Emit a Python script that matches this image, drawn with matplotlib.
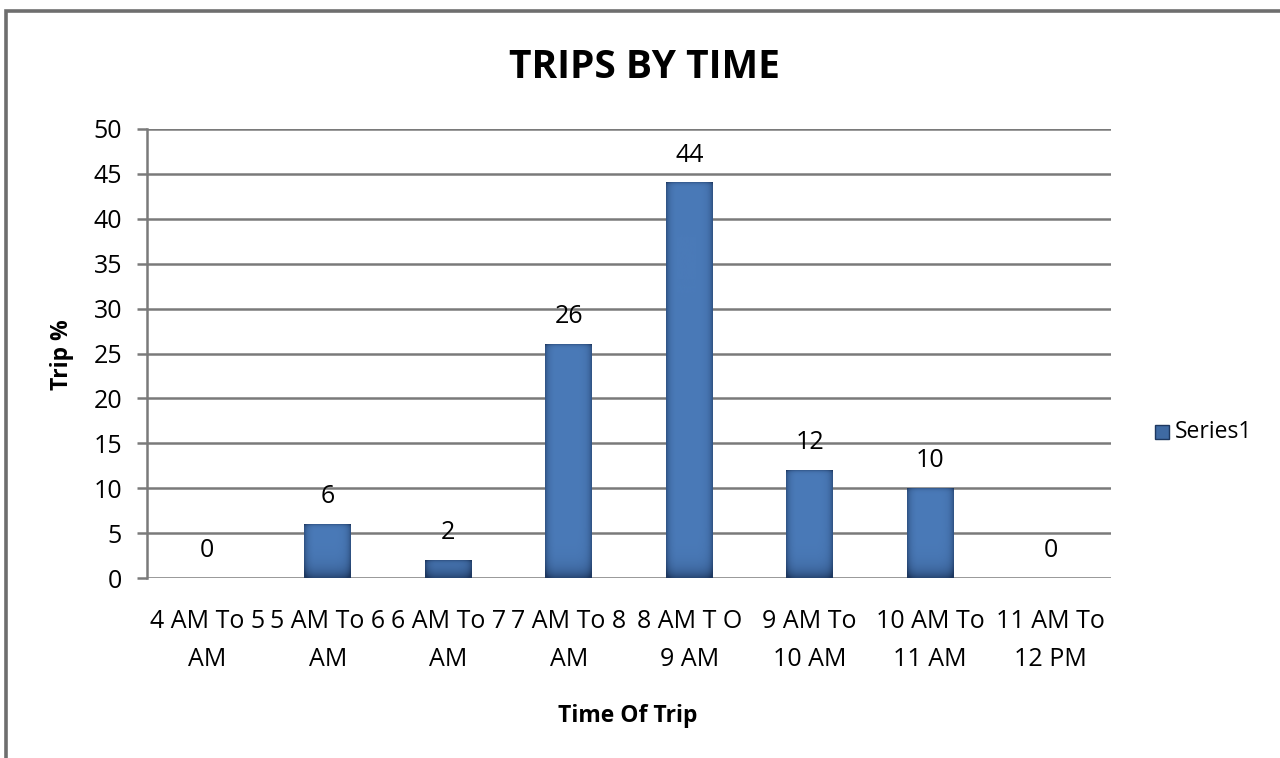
import numpy as np
import matplotlib
matplotlib.use("Agg")
import matplotlib.pyplot as plt
from matplotlib.patches import Rectangle

# Data
categories = [
    "4 AM To 5\nAM", "5 AM To 6\nAM", "6 AM To 7\nAM", "7 AM To 8\nAM",
    "8 AM T O\n9 AM", "9 AM To\n10 AM", "10 AM To\n11 AM", "11 AM To\n12 PM",
]
trip_pct = [0, 6, 2, 26, 44, 12, 10, 0]
y_ticks = [0, 5, 10, 15, 20, 25, 30, 35, 40, 45, 50]

FONT = ["Open Sans", "DejaVu Sans"]
plt.rcParams["font.family"] = FONT

W, H = 1280, 758
fig = plt.figure(figsize=(W / 100, H / 100), dpi=100)
fig.patch.set_facecolor("white")

# outer chart frame (extends past the right and bottom edges)
fig.patches.append(Rectangle((6 / W, -0.05), 1.2, 1 - 11 / H + 0.05,
                             transform=fig.transFigure, fill=False,
                             edgecolor="#6e6e6e", linewidth=2.6, zorder=0))

ax = fig.add_axes([147 / W, 1 - 578 / H, (1111 - 147) / W, (578 - 129) / H])
ax.set_xlim(-0.5, len(categories) - 0.5)
ax.set_ylim(0, 50)

TICK_FS = 18
grid_c = "#7a7a7a"
for t in y_ticks:
    ax.axhline(t, color=grid_c, linewidth=1.8, zorder=1)
for s in ["top", "right", "bottom"]:
    ax.spines[s].set_visible(False)
ax.spines["left"].set_color(grid_c)
ax.spines["left"].set_linewidth(1.8)
ax.spines["left"].set_zorder(3)

ax.set_yticks(y_ticks)
ax.set_yticklabels([str(t) for t in y_ticks], fontsize=TICK_FS)
ax.tick_params(axis="y", length=7, width=1.8, color=grid_c, pad=11)
ax.set_xticks(range(len(categories)))
ax.set_xticklabels(categories, fontsize=TICK_FS, linespacing=1.7)
ax.tick_params(axis="x", length=0, pad=22)

# shaded bars
base = np.array([74, 122, 184]) / 255.0
edge = np.array([30, 56, 96]) / 255.0
bar_w = 0.39
px_per_unit = (578 - 129) / 50.0
nx = 80
u = np.linspace(0, 1, nx)
hshade = 0.6 * np.exp(-u / 0.07) + 0.6 * np.exp(-(1 - u) / 0.07)
hshade = np.clip(hshade - 0.04 * np.exp(-((u - 0.35) / 0.2) ** 2), 0, 1)

for i, v in enumerate(trip_pct):
    if v > 0:
        ny = max(int(v * px_per_unit), 2)
        d = np.arange(ny)[::-1][:, None] + 0.5  # pixel distance from bottom
        vshade = 0.8 * np.exp(-d / 8.0)
        top = 0.3 * np.exp(-(ny - 1 - d) / 1.5)
        k = np.clip(hshade[None, :] + vshade + top, 0, 1)[..., None]
        img = base * (1 - k) + edge * k
        x0, x1 = i - bar_w / 2, i + bar_w / 2
        ax.imshow(img, extent=[x0, x1, 0, v], aspect="auto",
                  interpolation="bilinear", zorder=2)
    ax.text(i, v + 3.1, str(v), ha="center", va="center", fontsize=TICK_FS,
            color="black", zorder=4)

ax.set_xlim(-0.5, len(categories) - 0.5)
ax.set_ylim(0, 50)

fig.text(644 / W, 1 - 68 / H, "TRIPS BY TIME", ha="center", va="center",
         fontsize=28, fontweight="bold")
fig.text(62 / W, 1 - 355 / H, "Trip %", ha="center", va="center",
         rotation=90, fontsize=16.5, fontweight="bold")
fig.text(628 / W, 1 - 716 / H, "Time Of Trip", ha="center", va="center",
         fontsize=16.5, fontweight="bold")

# legend
lx, ly = 1155, 432
fig.patches.append(Rectangle((lx / W, 1 - (ly + 7) / H), 14 / W, 14 / H,
                             transform=fig.transFigure,
                             facecolor="#3f6aa3", edgecolor="#1e3860",
                             linewidth=1.0))
fig.text(1175 / W, 1 - ly / H, "Series1", ha="left", va="center",
         fontsize=16.5)

fig.savefig("out.png", dpi=100, facecolor="white")
